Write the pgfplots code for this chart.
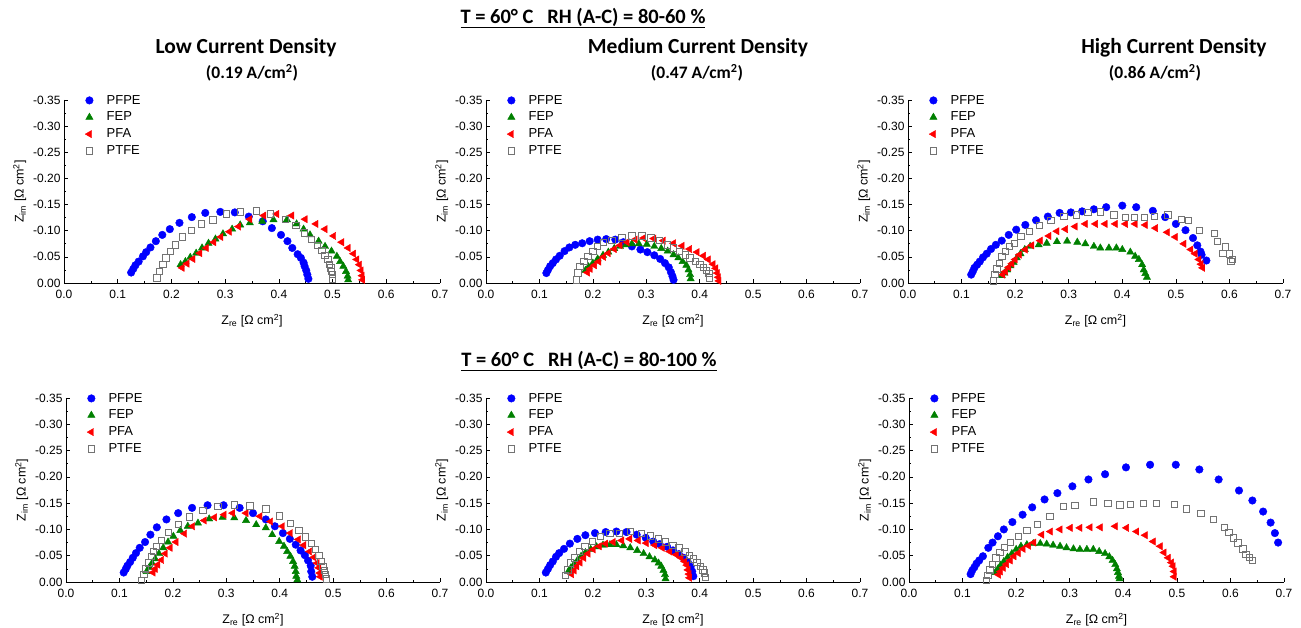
\documentclass[border=0pt]{standalone}
\usepackage{pgfplots}
\pgfplotsset{compat=1.18}
\usepackage{fontspec}
\setmainfont{Liberation Sans}
\newfontfamily\calfont{Carlito}
\definecolor{cfepe}{RGB}{0,0,255}
\definecolor{cfep}{RGB}{0,128,0}
\definecolor{cpfa}{RGB}{255,0,0}
\definecolor{cptfe}{RGB}{115,115,115}
\pgfplotsset{
  nyq/.style={
    scale only axis,
    xmin=0, xmax=0.7, ymin=-0.35, ymax=0,
    y dir=reverse,
    axis x line=bottom, axis y line=left,
    axis line style={-, line width=0.8pt},
    xtick={0,0.1,0.2,0.3,0.4,0.5,0.6,0.7},
    ytick={-0.35,-0.30,-0.25,-0.20,-0.15,-0.10,-0.05,0},
    minor x tick num=1, minor y tick num=1,
    tick align=inside,
    major tick length=4pt, minor tick length=2pt,
    tick style={line width=0.6pt, black},
    /pgf/number format/assume math mode=true,
    xticklabel style={yshift=-4pt, /pgf/number format/.cd, fixed, fixed zerofill, precision=1},
    yticklabel style={/pgf/number format/.cd, fixed, fixed zerofill, precision=2},
    tick label style={font=\fontsize{12}{12}\selectfont},
    label style={font=\fontsize{12.5}{13}\selectfont},
    xlabel={Z\textsubscript{re} [Ω cm\textsuperscript{2}]},
    ylabel={Z\textsubscript{im} [Ω cm\textsuperscript{2}]},
    xlabel style={yshift=-8pt},
    legend style={draw=none, fill=none, at={(0.04,1)}, yshift=8pt, anchor=north west,
      font=\fontsize{13}{14}\selectfont, row sep=2.4pt, inner sep=1pt},
    legend image code/.code={\path (0pt,0pt) (24pt,0pt); \draw[#1] plot[only marks] coordinates {(9pt,0pt)};},
    legend cell align=left,
    clip=false,
  },
  sPFPE/.style={only marks, mark=*, color=cfepe, mark size=3.8pt},
  sFEP/.style={only marks, mark=triangle*, color=cfep, mark size=4.2pt},
  sPFA/.style={only marks, mark=triangle*, color=cpfa, mark size=4.2pt, mark options={rotate=90}},
  sPTFE/.style={only marks, mark=square, color=cptfe, mark size=3.2pt, mark options={line width=0.8pt}},
}
\begin{document}
\begin{tikzpicture}
\useasboundingbox (0,0) rectangle (1301pt,628pt);
% titles
\node[font=\calfont\bfseries\fontsize{20.5}{21}\selectfont] at (583pt,610pt) {\underline{T = 60° C\ \ \ RH (A-C) = 80-60 \%}};
\node[font=\calfont\bfseries\fontsize{20.5}{21}\selectfont] at (589pt,267pt) {\underline{T = 60° C\ \ \ RH (A-C) = 80-100 \%}};
\node[font=\calfont\bfseries\fontsize{21.5}{22}\selectfont] at (246pt,580pt) {Low Current Density};
\node[font=\calfont\bfseries\fontsize{17.5}{18}\selectfont] at (252pt,555pt) {(0.19 A/cm\textsuperscript{2})};
\node[font=\calfont\bfseries\fontsize{21.5}{22}\selectfont] at (698pt,580pt) {Medium Current Density};
\node[font=\calfont\bfseries\fontsize{17.5}{18}\selectfont] at (697pt,555pt) {(0.47 A/cm\textsuperscript{2})};
\node[font=\calfont\bfseries\fontsize{21.5}{22}\selectfont] at (1174pt,580pt) {High Current Density};
\node[font=\calfont\bfseries\fontsize{17.5}{18}\selectfont] at (1155pt,555pt) {(0.86 A/cm\textsuperscript{2})};

% ---------- Panel 1: low, 80-60
\begin{axis}[nyq, at={(64pt,345pt)}, anchor=south west, width=376pt, height=183pt]
\addplot[sPFPE] coordinates {(0.125,-0.020)(0.129,-0.027)(0.133,-0.034)(0.139,-0.041)(0.147,-0.051)(0.153,-0.059)(0.161,-0.068)(0.171,-0.080)(0.183,-0.092)(0.197,-0.103)(0.215,-0.115)(0.238,-0.126)(0.263,-0.134)(0.291,-0.136)(0.318,-0.135)(0.344,-0.127)(0.370,-0.118)(0.387,-0.105)(0.404,-0.092)(0.416,-0.080)(0.425,-0.067)(0.435,-0.055)(0.441,-0.048)(0.446,-0.039)(0.448,-0.032)(0.451,-0.024)(0.453,-0.016)(0.455,-0.008)};
\addlegendentry{PFPE}
\addplot[sFEP] coordinates {(0.217,-0.035)(0.226,-0.041)(0.235,-0.049)(0.246,-0.057)(0.257,-0.067)(0.269,-0.076)(0.282,-0.084)(0.296,-0.094)(0.313,-0.103)(0.328,-0.111)(0.346,-0.115)(0.369,-0.118)(0.390,-0.121)(0.415,-0.121)(0.433,-0.113)(0.446,-0.103)(0.458,-0.092)(0.474,-0.080)(0.486,-0.070)(0.498,-0.061)(0.508,-0.051)(0.514,-0.041)(0.520,-0.032)(0.525,-0.022)(0.528,-0.013)(0.529,-0.006)};
\addlegendentry{FEP}
\addplot[sPFA] coordinates {(0.220,-0.029)(0.229,-0.037)(0.240,-0.046)(0.253,-0.057)(0.265,-0.067)(0.279,-0.078)(0.292,-0.088)(0.308,-0.098)(0.325,-0.108)(0.346,-0.122)(0.372,-0.129)(0.396,-0.132)(0.424,-0.129)(0.449,-0.122)(0.469,-0.113)(0.486,-0.103)(0.502,-0.090)(0.517,-0.078)(0.529,-0.067)(0.539,-0.056)(0.545,-0.045)(0.550,-0.035)(0.553,-0.024)(0.555,-0.014)(0.556,-0.006)};
\addlegendentry{PFA}
\addplot[sPTFE] coordinates {(0.173,-0.010)(0.178,-0.022)(0.184,-0.035)(0.190,-0.048)(0.198,-0.061)(0.207,-0.073)(0.220,-0.088)(0.237,-0.101)(0.256,-0.113)(0.277,-0.121)(0.302,-0.132)(0.328,-0.136)(0.358,-0.138)(0.384,-0.132)(0.412,-0.122)(0.432,-0.110)(0.447,-0.096)(0.461,-0.083)(0.472,-0.072)(0.480,-0.062)(0.486,-0.053)(0.491,-0.045)(0.494,-0.036)(0.497,-0.029)(0.498,-0.022)(0.500,-0.016)(0.500,-0.008)};
\addlegendentry{PTFE}
\end{axis}

% ---------- Panel 2: medium, 80-60
\begin{axis}[nyq, at={(486pt,345pt)}, anchor=south west, width=374pt, height=183pt]
\addplot[sPFPE] coordinates {(0.113,-0.019)(0.116,-0.025)(0.120,-0.032)(0.125,-0.038)(0.131,-0.045)(0.138,-0.052)(0.147,-0.061)(0.156,-0.068)(0.167,-0.073)(0.180,-0.076)(0.194,-0.080)(0.209,-0.083)(0.225,-0.084)(0.242,-0.083)(0.257,-0.078)(0.273,-0.070)(0.289,-0.064)(0.302,-0.059)(0.315,-0.053)(0.326,-0.046)(0.335,-0.038)(0.342,-0.030)(0.346,-0.021)(0.349,-0.013)(0.351,-0.006)};
\addlegendentry{PFPE}
\addplot[sFEP] coordinates {(0.186,-0.024)(0.192,-0.031)(0.200,-0.038)(0.209,-0.046)(0.219,-0.053)(0.229,-0.059)(0.240,-0.066)(0.251,-0.070)(0.262,-0.073)(0.273,-0.075)(0.286,-0.075)(0.301,-0.074)(0.315,-0.070)(0.328,-0.066)(0.340,-0.061)(0.351,-0.054)(0.360,-0.048)(0.368,-0.041)(0.375,-0.034)(0.379,-0.025)(0.382,-0.016)(0.383,-0.008)};
\addlegendentry{FEP}
\addplot[sPFA] coordinates {(0.190,-0.020)(0.195,-0.027)(0.203,-0.034)(0.211,-0.041)(0.220,-0.050)(0.229,-0.057)(0.240,-0.065)(0.251,-0.072)(0.264,-0.078)(0.279,-0.083)(0.295,-0.086)(0.314,-0.085)(0.332,-0.081)(0.351,-0.076)(0.367,-0.071)(0.381,-0.065)(0.395,-0.059)(0.407,-0.052)(0.416,-0.045)(0.425,-0.036)(0.430,-0.028)(0.433,-0.019)(0.435,-0.011)(0.436,-0.004)};
\addlegendentry{PFA}
\addplot[sPTFE] coordinates {(0.169,-0.006)(0.172,-0.019)(0.176,-0.032)(0.183,-0.041)(0.191,-0.051)(0.200,-0.061)(0.209,-0.070)(0.220,-0.078)(0.236,-0.081)(0.254,-0.087)(0.273,-0.090)(0.292,-0.090)(0.309,-0.086)(0.324,-0.081)(0.339,-0.073)(0.351,-0.067)(0.362,-0.061)(0.373,-0.054)(0.382,-0.048)(0.392,-0.041)(0.400,-0.035)(0.407,-0.030)(0.413,-0.024)(0.417,-0.018)(0.418,-0.010)};
\addlegendentry{PTFE}
\end{axis}

% ---------- Panel 3: high, 80-60
\begin{axis}[nyq, at={(908pt,345pt)}, anchor=south west, width=375pt, height=183pt]
\addplot[sPFPE] coordinates {(0.118,-0.016)(0.121,-0.022)(0.124,-0.029)(0.129,-0.035)(0.134,-0.041)(0.140,-0.049)(0.147,-0.056)(0.155,-0.065)(0.164,-0.073)(0.175,-0.081)(0.188,-0.092)(0.202,-0.102)(0.219,-0.111)(0.239,-0.120)(0.261,-0.127)(0.283,-0.134)(0.304,-0.135)(0.325,-0.137)(0.347,-0.141)(0.370,-0.145)(0.400,-0.148)(0.426,-0.145)(0.457,-0.138)(0.480,-0.126)(0.500,-0.113)(0.518,-0.101)(0.532,-0.086)(0.540,-0.072)(0.546,-0.060)(0.548,-0.054)(0.557,-0.043)};
\addlegendentry{PFPE}
\addplot[sFEP] coordinates {(0.175,-0.014)(0.180,-0.019)(0.185,-0.025)(0.191,-0.033)(0.197,-0.039)(0.203,-0.048)(0.210,-0.056)(0.218,-0.064)(0.228,-0.070)(0.244,-0.073)(0.259,-0.076)(0.278,-0.079)(0.297,-0.080)(0.316,-0.078)(0.331,-0.075)(0.347,-0.070)(0.359,-0.067)(0.375,-0.067)(0.389,-0.067)(0.400,-0.064)(0.415,-0.059)(0.424,-0.051)(0.431,-0.045)(0.437,-0.035)(0.440,-0.025)(0.443,-0.018)(0.446,-0.011)};
\addlegendentry{FEP}
\addplot[sPFA] coordinates {(0.177,-0.016)(0.182,-0.022)(0.188,-0.030)(0.194,-0.037)(0.200,-0.045)(0.208,-0.054)(0.219,-0.064)(0.231,-0.072)(0.247,-0.081)(0.263,-0.090)(0.278,-0.099)(0.294,-0.103)(0.312,-0.108)(0.331,-0.113)(0.350,-0.113)(0.368,-0.113)(0.387,-0.113)(0.406,-0.113)(0.424,-0.113)(0.443,-0.111)(0.462,-0.105)(0.484,-0.097)(0.499,-0.088)(0.515,-0.075)(0.528,-0.064)(0.536,-0.056)(0.543,-0.045)(0.547,-0.036)(0.550,-0.029)};
\addlegendentry{PFA}
\addplot[sPTFE] coordinates {(0.159,-0.004)(0.162,-0.016)(0.166,-0.027)(0.171,-0.038)(0.175,-0.051)(0.182,-0.060)(0.189,-0.070)(0.199,-0.076)(0.211,-0.089)(0.227,-0.099)(0.245,-0.110)(0.267,-0.120)(0.291,-0.127)(0.314,-0.130)(0.336,-0.135)(0.359,-0.136)(0.384,-0.130)(0.406,-0.125)(0.423,-0.125)(0.441,-0.126)(0.460,-0.127)(0.485,-0.130)(0.510,-0.122)(0.523,-0.120)(0.544,-0.101)(0.572,-0.095)(0.578,-0.080)(0.588,-0.057)(0.592,-0.069)(0.600,-0.056)(0.603,-0.041)(0.605,-0.045)};
\addlegendentry{PTFE}
\end{axis}

% ---------- Panel 4: low, 80-100
\begin{axis}[nyq, at={(66pt,46pt)}, anchor=south west, width=374pt, height=184pt]
\addplot[sPFPE] coordinates {(0.108,-0.018)(0.112,-0.025)(0.115,-0.031)(0.120,-0.038)(0.125,-0.046)(0.131,-0.055)(0.138,-0.065)(0.148,-0.076)(0.158,-0.090)(0.170,-0.104)(0.188,-0.119)(0.210,-0.131)(0.236,-0.141)(0.265,-0.146)(0.295,-0.146)(0.325,-0.141)(0.350,-0.131)(0.374,-0.119)(0.391,-0.106)(0.406,-0.093)(0.419,-0.082)(0.430,-0.071)(0.439,-0.060)(0.447,-0.051)(0.453,-0.041)(0.458,-0.031)(0.459,-0.020)(0.461,-0.010)};
\addlegendentry{PFPE}
\addplot[sFEP] coordinates {(0.151,-0.020)(0.156,-0.028)(0.161,-0.036)(0.167,-0.044)(0.174,-0.054)(0.182,-0.065)(0.191,-0.076)(0.201,-0.087)(0.214,-0.098)(0.228,-0.106)(0.247,-0.112)(0.268,-0.120)(0.293,-0.123)(0.315,-0.122)(0.337,-0.117)(0.356,-0.109)(0.374,-0.103)(0.386,-0.090)(0.399,-0.077)(0.408,-0.068)(0.414,-0.058)(0.420,-0.049)(0.425,-0.039)(0.428,-0.030)(0.430,-0.020)(0.431,-0.011)(0.433,-0.004)};
\addlegendentry{FEP}
\addplot[sPFA] coordinates {(0.163,-0.018)(0.167,-0.025)(0.172,-0.033)(0.179,-0.042)(0.186,-0.054)(0.195,-0.065)(0.206,-0.076)(0.222,-0.092)(0.237,-0.106)(0.259,-0.117)(0.278,-0.123)(0.296,-0.128)(0.312,-0.131)(0.337,-0.131)(0.363,-0.125)(0.383,-0.115)(0.405,-0.106)(0.420,-0.093)(0.435,-0.081)(0.445,-0.070)(0.456,-0.058)(0.464,-0.047)(0.470,-0.036)(0.473,-0.027)(0.475,-0.017)(0.476,-0.010)};
\addlegendentry{PFA}
\addplot[sPTFE] coordinates {(0.141,-0.003)(0.146,-0.014)(0.149,-0.025)(0.155,-0.036)(0.160,-0.049)(0.164,-0.058)(0.169,-0.068)(0.179,-0.079)(0.192,-0.094)(0.210,-0.109)(0.231,-0.124)(0.256,-0.136)(0.284,-0.144)(0.315,-0.147)(0.344,-0.145)(0.374,-0.139)(0.399,-0.126)(0.420,-0.111)(0.436,-0.098)(0.448,-0.086)(0.459,-0.073)(0.467,-0.062)(0.473,-0.051)(0.477,-0.039)(0.481,-0.030)(0.484,-0.022)(0.485,-0.014)(0.487,-0.006)};
\addlegendentry{PTFE}
\end{axis}

% ---------- Panel 5: medium, 80-100
\begin{axis}[nyq, at={(486pt,46pt)}, anchor=south west, width=374pt, height=184pt]
\addplot[sPFPE] coordinates {(0.112,-0.018)(0.116,-0.025)(0.120,-0.032)(0.125,-0.039)(0.131,-0.048)(0.137,-0.055)(0.146,-0.063)(0.157,-0.073)(0.171,-0.082)(0.186,-0.089)(0.204,-0.093)(0.224,-0.095)(0.244,-0.096)(0.263,-0.095)(0.282,-0.090)(0.299,-0.084)(0.313,-0.077)(0.325,-0.072)(0.339,-0.067)(0.350,-0.060)(0.361,-0.053)(0.370,-0.046)(0.378,-0.037)(0.383,-0.029)(0.386,-0.020)(0.388,-0.011)};
\addlegendentry{PFPE}
\addplot[sFEP] coordinates {(0.154,-0.020)(0.159,-0.027)(0.165,-0.034)(0.171,-0.041)(0.178,-0.049)(0.186,-0.056)(0.196,-0.062)(0.207,-0.067)(0.219,-0.070)(0.232,-0.071)(0.244,-0.071)(0.257,-0.069)(0.270,-0.065)(0.283,-0.060)(0.295,-0.054)(0.306,-0.048)(0.316,-0.042)(0.323,-0.036)(0.328,-0.030)(0.332,-0.022)(0.335,-0.014)(0.336,-0.006)};
\addlegendentry{FEP}
\addplot[sPFA] coordinates {(0.160,-0.015)(0.165,-0.022)(0.170,-0.030)(0.176,-0.037)(0.183,-0.046)(0.191,-0.054)(0.201,-0.062)(0.212,-0.068)(0.224,-0.073)(0.238,-0.076)(0.254,-0.079)(0.269,-0.082)(0.285,-0.079)(0.300,-0.074)(0.316,-0.070)(0.330,-0.065)(0.344,-0.058)(0.356,-0.052)(0.365,-0.046)(0.372,-0.039)(0.376,-0.032)(0.378,-0.023)(0.380,-0.015)(0.381,-0.008)};
\addlegendentry{PFA}
\addplot[sPTFE] coordinates {(0.149,-0.012)(0.153,-0.023)(0.158,-0.036)(0.165,-0.046)(0.175,-0.058)(0.185,-0.068)(0.199,-0.077)(0.214,-0.087)(0.232,-0.092)(0.250,-0.093)(0.270,-0.096)(0.291,-0.093)(0.308,-0.088)(0.323,-0.082)(0.336,-0.076)(0.350,-0.070)(0.361,-0.065)(0.372,-0.057)(0.381,-0.051)(0.388,-0.044)(0.395,-0.037)(0.401,-0.030)(0.406,-0.023)(0.409,-0.017)(0.411,-0.009)};
\addlegendentry{PTFE}
\end{axis}

% ---------- Panel 6: high, 80-100
\begin{axis}[nyq, at={(909pt,46pt)}, anchor=south west, width=375pt, height=184pt]
\addplot[sPFPE] coordinates {(0.115,-0.015)(0.118,-0.022)(0.122,-0.028)(0.126,-0.035)(0.131,-0.041)(0.138,-0.049)(0.148,-0.065)(0.156,-0.075)(0.166,-0.087)(0.177,-0.100)(0.193,-0.114)(0.212,-0.128)(0.230,-0.142)(0.253,-0.157)(0.277,-0.169)(0.305,-0.182)(0.335,-0.195)(0.366,-0.205)(0.405,-0.218)(0.450,-0.223)(0.498,-0.223)(0.542,-0.214)(0.578,-0.195)(0.616,-0.174)(0.641,-0.155)(0.661,-0.134)(0.675,-0.113)(0.683,-0.093)(0.689,-0.075)};
\addlegendentry{PFPE}
\addplot[sFEP] coordinates {(0.161,-0.018)(0.166,-0.025)(0.171,-0.032)(0.177,-0.039)(0.184,-0.047)(0.192,-0.054)(0.200,-0.062)(0.209,-0.068)(0.220,-0.071)(0.232,-0.073)(0.245,-0.073)(0.257,-0.072)(0.269,-0.070)(0.282,-0.068)(0.294,-0.065)(0.307,-0.063)(0.319,-0.062)(0.332,-0.062)(0.344,-0.062)(0.355,-0.058)(0.366,-0.054)(0.374,-0.048)(0.380,-0.041)(0.385,-0.033)(0.388,-0.025)(0.390,-0.018)(0.392,-0.011)(0.393,-0.006)};
\addlegendentry{FEP}
\addplot[sPFA] coordinates {(0.167,-0.014)(0.171,-0.020)(0.176,-0.027)(0.182,-0.034)(0.189,-0.041)(0.196,-0.049)(0.204,-0.055)(0.213,-0.063)(0.223,-0.069)(0.233,-0.075)(0.248,-0.090)(0.264,-0.096)(0.282,-0.100)(0.301,-0.103)(0.319,-0.103)(0.338,-0.104)(0.357,-0.104)(0.385,-0.106)(0.406,-0.103)(0.425,-0.096)(0.441,-0.089)(0.456,-0.077)(0.469,-0.068)(0.476,-0.056)(0.484,-0.046)(0.490,-0.037)(0.493,-0.030)(0.495,-0.020)(0.495,-0.010)};
\addlegendentry{PFA}
\addplot[sPTFE] coordinates {(0.144,-0.003)(0.147,-0.012)(0.151,-0.023)(0.156,-0.034)(0.162,-0.046)(0.170,-0.056)(0.178,-0.066)(0.189,-0.075)(0.204,-0.087)(0.220,-0.098)(0.240,-0.109)(0.263,-0.125)(0.288,-0.144)(0.310,-0.146)(0.344,-0.152)(0.371,-0.150)(0.394,-0.147)(0.413,-0.148)(0.437,-0.150)(0.462,-0.150)(0.495,-0.148)(0.518,-0.139)(0.545,-0.131)(0.568,-0.119)(0.589,-0.104)(0.597,-0.094)(0.605,-0.084)(0.614,-0.074)(0.623,-0.063)(0.629,-0.053)(0.635,-0.047)(0.641,-0.041)};
\addlegendentry{PTFE}
\end{axis}
\end{tikzpicture}
\end{document}
